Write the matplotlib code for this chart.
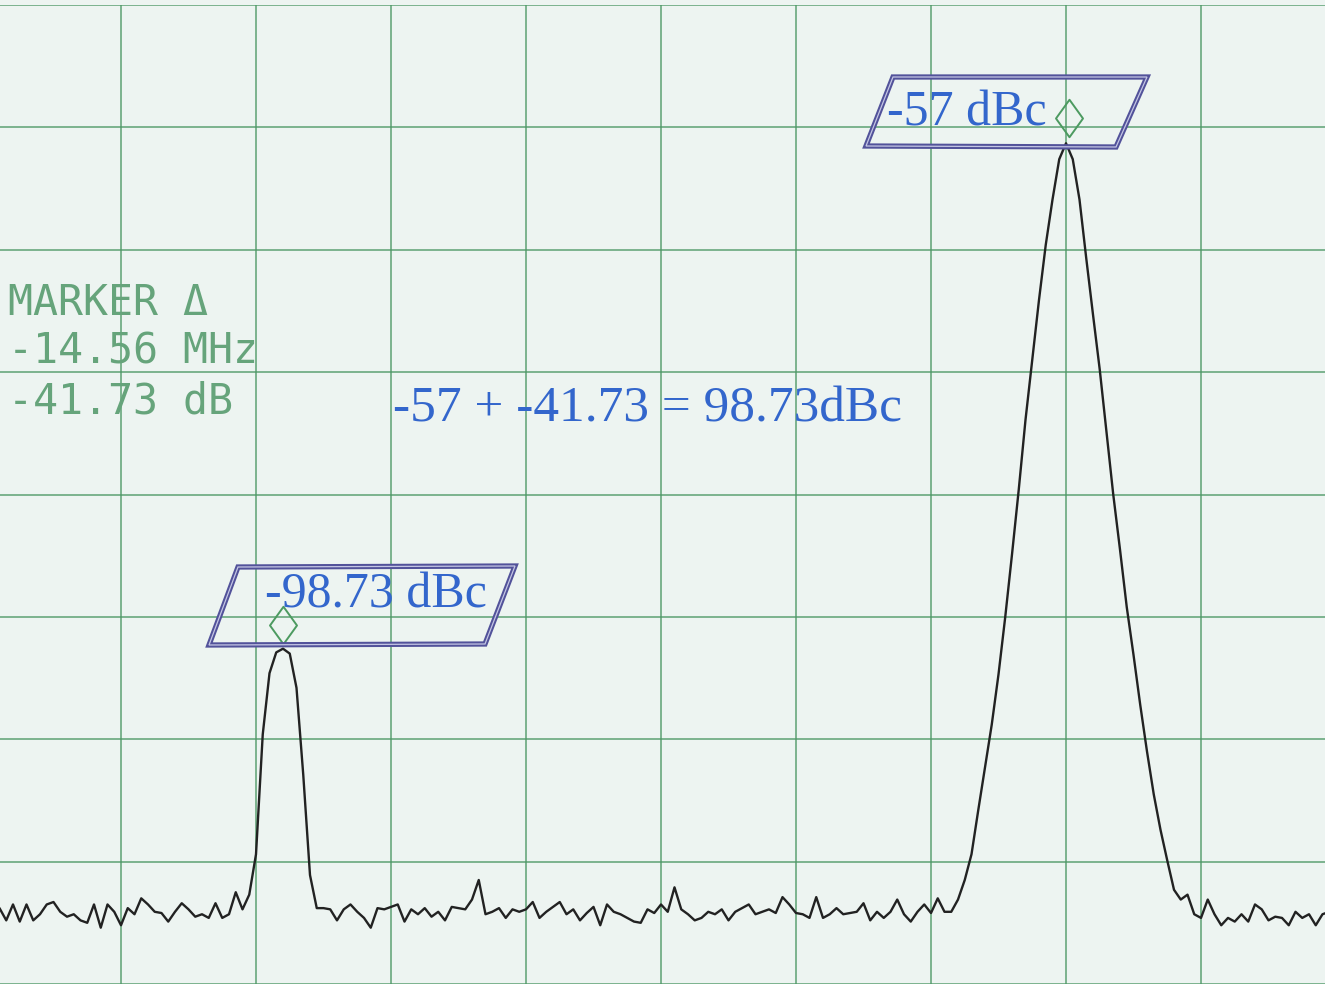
import numpy as np
import matplotlib
matplotlib.use('Agg')
import matplotlib.pyplot as plt
from matplotlib.patches import Polygon
from matplotlib.path import Path
from matplotlib import transforms

W, H = 1325, 984

# sweep: 201 points over 25 MHz span (2.5 MHz/div), 10 dB/div, ref 0 dB at top
span_mhz = 25.0
freq_mhz = np.linspace(-span_mhz / 2, span_mhz / 2, 201)

level_db = [
    -73.9, -74.3, -73.8, -74.8, -73.5, -74.9, -73.5, -74.8, -74.3, -73.5,
    -73.3, -74.1, -74.5, -74.3, -74.8, -75.0, -73.5, -75.4, -73.5, -74.1,
    -75.2, -73.8, -74.3, -73.0, -73.5, -74.1, -74.2, -74.9, -74.1, -73.4,
    -73.9, -74.5, -74.3, -74.6, -73.4, -74.6, -74.3, -72.5, -73.9, -72.7,
    -69.4, -59.6, -54.6, -52.9, -52.6, -53.0, -55.8, -62.9, -71.1, -73.8,
    -73.8, -73.9, -74.8, -73.9, -73.5, -74.1, -74.6, -75.4, -73.8, -73.9,
    -73.7, -73.5, -74.9, -73.9, -74.3, -73.8, -74.5, -74.1, -74.8, -73.7,
    -73.8, -73.9, -73.1, -71.5, -74.3, -74.1, -73.8, -74.6, -73.9, -74.1,
    -73.9, -73.3, -74.6, -74.1, -73.7, -73.3, -74.3, -73.9, -74.8, -74.2,
    -73.7, -75.2, -73.5, -74.1, -74.3, -74.6, -74.9, -75.0, -73.9, -74.2,
    -73.5, -74.1, -72.1, -73.9, -74.3, -74.8, -74.6, -74.1, -74.3, -73.9,
    -74.8, -74.1, -73.8, -73.5, -74.3, -74.1, -73.9, -74.2, -72.9, -73.5,
    -74.2, -74.3, -74.6, -72.9, -74.6, -74.3, -73.8, -74.3, -74.2, -74.1,
    -73.4, -74.8, -74.1, -74.6, -74.1, -73.1, -74.3, -74.9, -74.1, -73.5,
    -74.2, -73.0, -74.1, -74.1, -73.1, -71.5, -69.4, -65.8, -62.3, -58.8,
    -54.7, -50.0, -44.9, -39.6, -33.9, -29.0, -24.1, -19.6, -15.9, -12.6,
    -11.3, -12.6, -15.9, -20.7, -25.3, -29.8, -34.9, -40.0, -44.5, -49.2,
    -53.1, -57.2, -61.0, -64.5, -67.4, -69.9, -72.3, -73.1, -72.7, -74.3,
    -74.6, -73.1, -74.3, -75.2, -74.6, -74.9, -74.3, -74.9, -73.5, -73.9,
    -74.8, -74.5, -74.6, -75.2, -74.1, -74.6, -74.3, -75.2, -74.3, -74.1,
    -74.3,
]

carrier_idx = 160
spur_idx = 44

marker_lines = ['MARKER Δ', '-14.56 MHz', '-41.73 dB']
carrier_label = '-57 dBc'
spur_label = '-98.73 dBc'
equation = '-57 + -41.73 = 98.73dBc'

paper = '#edf4f1'
grid_green = '#4e9866'
text_green = '#66a47b'
ink_blue = '#3366cc'
box_blue = '#52529a'

fig = plt.figure(figsize=(W / 100, H / 100), dpi=100)
fig.patch.set_facecolor(paper)
# the graticule runs a little past the left/right edges of the scan
ax = fig.add_axes([-14 / W, 0, 1350 / W, 979 / H])
ax.set_facecolor(paper)
ax.set_xlim(-span_mhz / 2, span_mhz / 2)
ax.set_ylim(-80, 0)
ax.set_xticks(np.arange(-12.5, 12.6, 2.5))
ax.set_yticks(np.arange(-80, 1, 10))
ax.tick_params(length=0, labelbottom=False, labelleft=False)
for s in ax.spines.values():
    s.set_visible(False)
ax.grid(True, color=grid_green, lw=1.1, alpha=0.9)
ax.set_axisbelow(True)

ax.plot(freq_mhz, level_db, color='#222222', lw=1.7, zorder=3,
        solid_joinstyle='round')

# tall open diamond like the analyzer's marker glyph
diamond = Path([(0, 1), (0.72, 0), (0, -1), (-0.72, 0), (0, 1)],
               [Path.MOVETO, Path.LINETO, Path.LINETO, Path.LINETO, Path.CLOSEPOLY])
for idx, dx, dy in [(carrier_idx, 3, 25), (spur_idx, 0, 24)]:
    tr = transforms.offset_copy(ax.transData, fig=fig, x=dx, y=dy, units='dots')
    ax.plot(freq_mhz[idx], level_db[idx], marker=diamond, ms=27, mfc='none',
            mec='#4c9a60', mew=1.4, transform=tr, zorder=4)


def fpx(x, y):
    return (x / W, 1 - y / H)


def label_box(corners):
    pts = [fpx(x, y) for x, y in corners]
    ax.add_patch(Polygon(pts, closed=True, fill=False, ec=box_blue, lw=3.8,
                         transform=fig.transFigure, clip_on=False, zorder=5))
    ax.add_patch(Polygon(pts, closed=True, fill=False, ec='#c4c6e4', lw=0.9,
                         transform=fig.transFigure, clip_on=False, zorder=6))


label_box([(893, 77), (1147, 77), (1116, 147), (866, 146)])
label_box([(238, 567), (515, 566), (485, 644), (209, 645)])

serif = ['Liberation Serif', 'DejaVu Serif']
fig.text(*fpx(887, 125), carrier_label, color=ink_blue, fontsize=36,
         family=serif, va='baseline', ha='left', zorder=7)
fig.text(*fpx(265, 608), spur_label, color=ink_blue, fontsize=36,
         family=serif, va='baseline', ha='left', zorder=7)
fig.text(*fpx(393, 422), equation, color=ink_blue, fontsize=37,
         family=serif, va='baseline', ha='left', zorder=7)

for k, line in enumerate(marker_lines):
    fig.text(*fpx(8, 315 + 49 * k), line, color=text_green, fontsize=30,
             family=['DejaVu Sans Mono'], va='baseline', ha='left')

fig.savefig('out.png', dpi=100, facecolor=paper)
